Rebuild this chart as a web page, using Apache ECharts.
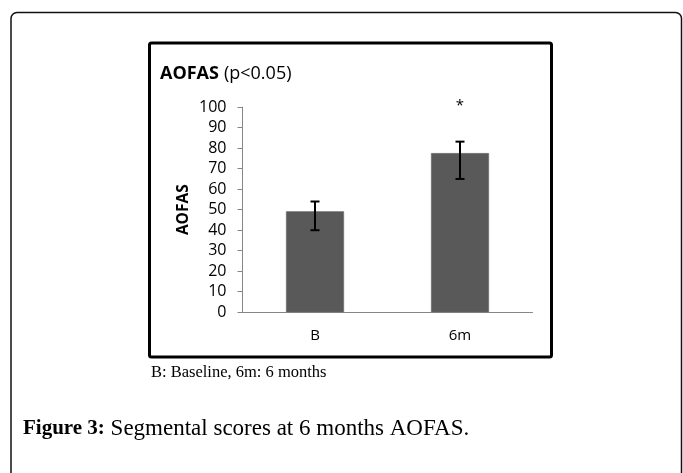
<!DOCTYPE html>
<html>
<head>
<meta charset="utf-8">
<script src="https://cdn.jsdelivr.net/npm/echarts@6/dist/echarts.min.js"></script>
<style>html,body{margin:0;padding:0;background:#fff}#c{width:683px;height:473px}</style>
</head>
<body>
<div id="c"></div>
<script>
var categories = ['B', '6m'];
var means = [49.2, 77.6];
var errLow = [40, 65];
var errHigh = [54, 83.2];
var sigMarks = ['', '*'];
var yTicks = [0, 100, 10];

var chart = echarts.init(document.getElementById('c'), null, {renderer: 'canvas'});
var errData = categories.map(function (c, i) { return [i, errLow[i], errHigh[i], sigMarks[i]]; });

chart.setOption({
  animation: false,
  backgroundColor: '#fff',
  title: {
    text: '{b|AOFAS} {n|(p<0.05)}',
    left: 155, top: 60,
    textStyle: {
      rich: {
        b: {fontFamily: 'Open Sans', fontWeight: 'bold', fontSize: 18, color: '#000'},
        n: {fontFamily: 'Open Sans', fontWeight: 'normal', fontSize: 18, color: '#000'}
      }
    }
  },
  grid: {left: 242.5, right: 150.5, top: 107.2, bottom: 160.8},
  xAxis: {
    type: 'category',
    data: categories,
    axisLine: {lineStyle: {color: '#868686', width: 1}},
    axisTick: {show: false},
    axisLabel: {color: '#000', fontFamily: 'Open Sans', fontSize: 15, margin: 16}
  },
  yAxis: {
    type: 'value',
    min: yTicks[0], max: yTicks[1], interval: yTicks[2],
    name: 'AOFAS',
    nameLocation: 'middle',
    nameGap: 51,
    nameRotate: 90,
    nameTextStyle: {fontFamily: 'Open Sans', fontWeight: 'bold', fontSize: 15.5, color: '#000'},
    axisLine: {show: true, lineStyle: {color: '#868686', width: 1}},
    axisTick: {show: true, length: 5, lineStyle: {color: '#868686'}},
    splitLine: {show: false},
    axisLabel: {color: '#000', fontFamily: 'Open Sans', fontSize: 16, margin: 16}
  },
  series: [
    {
      type: 'bar',
      data: means,
      barWidth: 58,
      itemStyle: {color: '#595959', borderColor: '#6e6e6e', borderWidth: 0.5}
    },
    {
      type: 'custom',
      data: errData,
      z: 10,
      renderItem: function (params, api) {
        var x = api.value(0);
        var lo = api.coord([x, api.value(1)]);
        var hi = api.coord([x, api.value(2)]);
        var hw = 4.5;
        var st = {stroke: '#000', lineWidth: 2};
        var children = [
          {type: 'line', shape: {x1: lo[0], y1: lo[1], x2: hi[0], y2: hi[1]}, style: st},
          {type: 'line', shape: {x1: lo[0] - hw, y1: lo[1], x2: lo[0] + hw, y2: lo[1]}, style: st},
          {type: 'line', shape: {x1: hi[0] - hw, y1: hi[1], x2: hi[0] + hw, y2: hi[1]}, style: st}
        ];
        var mark = sigMarks[params.dataIndex];
        if (mark) {
          var p = api.coord([x, 100]);
          children.push({type: 'text', style: {text: mark, x: p[0], y: p[1] - 1, align: 'center', verticalAlign: 'middle', fontFamily: 'Open Sans', fontSize: 15, fill: '#000'}});
        }
        return {type: 'group', children: children};
      }
    }
  ],
  graphic: [
    {type: 'rect', shape: {x: 11, y: 12.5, width: 670.5, height: 520, r: 6}, style: {fill: 'none', stroke: '#111', lineWidth: 1.5}, z: -1},
    {type: 'rect', shape: {x: 149.5, y: 43, width: 402, height: 314, r: 2}, style: {fill: 'none', stroke: '#000', lineWidth: 3}},
    {type: 'text', left: 151, top: 364, style: {text: 'B: Baseline, 6m: 6 months', fontFamily: 'Liberation Serif', fontSize: 16.5, fill: '#000'}},
    {type: 'text', left: 23, top: 417, style: {
      text: '{b|Figure 3:}{n| Segmental scores at 6 months AOFAS.}',
      rich: {
        b: {fontFamily: 'Liberation Serif', fontWeight: 'bold', fontSize: 21, fill: '#000'},
        n: {fontFamily: 'Liberation Serif', fontSize: 23, fill: '#000'}
      }
    }}
  ]
});
</script>
</body>
</html>
